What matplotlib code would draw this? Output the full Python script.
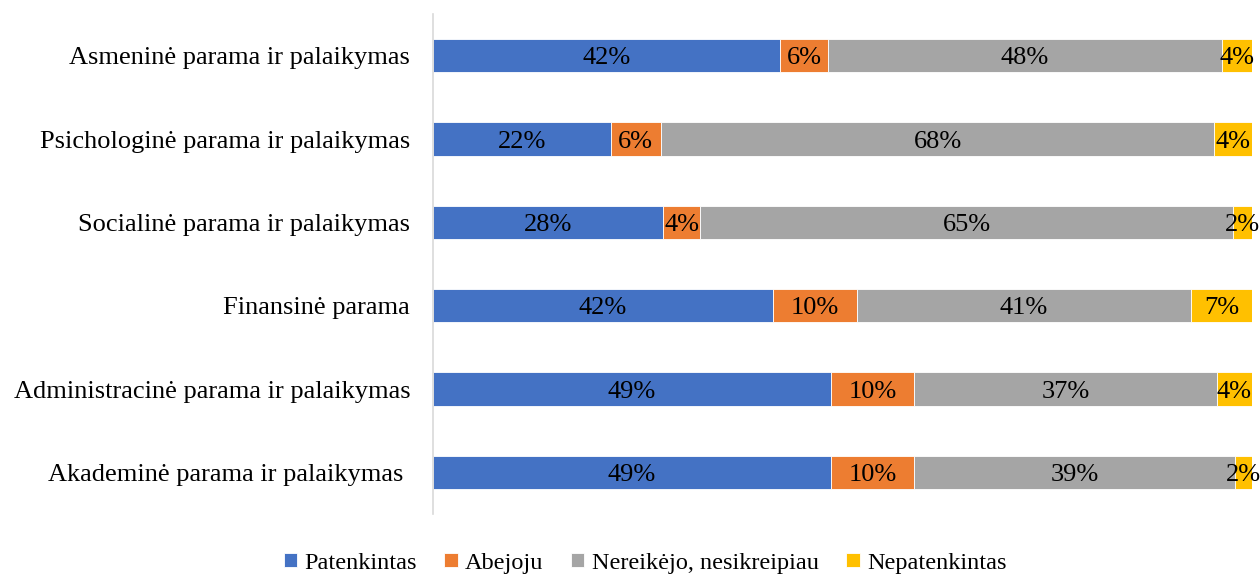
import matplotlib.pyplot as plt
import numpy as np

plt.rcParams['font.family'] = ['Liberation Serif', 'DejaVu Serif']

categories = [
    "Akademinė parama ir palaikymas ",
    "Administracinė parama ir palaikymas",
    "Finansinė parama",
    "Socialinė parama ir palaikymas",
    "Psichologinė parama ir palaikymas",
    "Asmeninė parama ir palaikymas",
]
series_names = ["Patenkintas", "Abejoju", "Nereikėjo, nesikreipiau", "Nepatenkintas"]

patenkintas = [48.6, 48.6, 41.5, 28.1, 21.7, 42.4]
abejoju = [10.1, 10.1, 10.3, 4.5, 6.1, 5.8]
nereikejo = [39.2, 37.0, 40.7, 65.1, 67.6, 48.1]
nepatenkintas = [2.1, 4.3, 7.5, 2.3, 4.6, 3.7]

labels = [
    ["49%", "49%", "42%", "28%", "22%", "42%"],
    ["10%", "10%", "10%", "4%", "6%", "6%"],
    ["39%", "37%", "41%", "65%", "68%", "48%"],
    ["2%", "4%", "7%", "2%", "4%", "4%"],
]

colors = ["#4472C4", "#ED7D31", "#A5A5A5", "#FFC000"]

fig = plt.figure(figsize=(12.6, 5.76), dpi=100)
ax = fig.add_axes([0.3437, 0.1076, 0.6500, 0.8681])

y = np.arange(len(categories))
left = np.zeros(len(categories))
data = [patenkintas, abejoju, nereikejo, nepatenkintas]

for vals, name, col, labs in zip(data, series_names, colors, labels):
    vals = np.array(vals)
    bars = ax.barh(y, vals, left=left, height=0.4, color=col, label=name,
                   edgecolor='white', linewidth=0.6)
    for b, v, lab in zip(bars, vals, labs):
        ax.text(b.get_x() + v / 2, b.get_y() + b.get_height() / 2, lab,
                ha='center', va='center_baseline', fontsize=19, color='black')
    left = left + vals

ax.set_xlim(0, 100)
ax.set_ylim(-0.5, 5.5)
ax.set_yticks(y)
ax.set_yticklabels(categories, fontsize=19)
ax.set_xticks([])
ax.tick_params(axis='y', length=0, pad=16.5)

for s in ['top', 'right', 'bottom']:
    ax.spines[s].set_visible(False)
ax.spines['left'].set_color('#D9D9D9')
ax.spines['left'].set_linewidth(1.2)

fig.legend(loc='lower center', bbox_to_anchor=(0.512, -0.034), ncol=4, frameon=False,
           fontsize=17.5, handlelength=0.55, handleheight=0.55, handletextpad=0.3,
           columnspacing=1.13)

fig.savefig("out.png", dpi=100)
